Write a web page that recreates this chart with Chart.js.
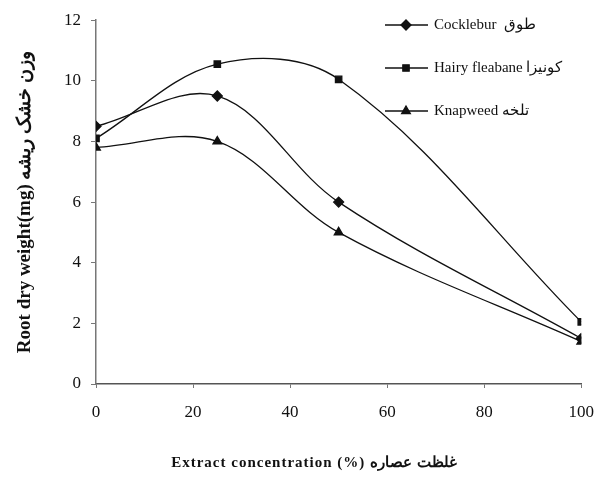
<!DOCTYPE html>
<html>
<head>
<meta charset="utf-8">
<script src="https://cdn.jsdelivr.net/npm/chart.js@4/dist/chart.umd.min.js"></script>
<style>
  html, body { margin: 0; padding: 0; background: #fff; }
  #wrap { width: 608px; height: 482px; }
</style>
</head>
<body>
<div id="wrap"><canvas id="chart" width="608" height="482"></canvas></div>
<script>
  // extract concentration (%)
  const concentrations = [0, 25, 50, 100];
  const cocklebur = [8.5, 9.5, 6.0, 1.5];
  const hairyFleabane = [8.1, 10.55, 10.05, 2.05];
  const knapweed = [7.8, 8.0, 5.0, 1.4];
  const xTicks = [0, 20, 40, 60, 80, 100];
  const yTicks = [0, 2, 4, 6, 8, 10, 12];

  const SERIF = "'Liberation Serif', 'DejaVu Serif', serif";
  const INK = '#111';

  function pts(vals) {
    return concentrations.map(function (c, i) { return { x: c, y: vals[i] }; });
  }

  function series(label, vals, style, radius) {
    return {
      label: label,
      data: pts(vals),
      borderColor: INK,
      backgroundColor: INK,
      borderWidth: 1.3,
      tension: 0.35,
      pointStyle: style,
      pointRadius: radius,
      pointBackgroundColor: INK,
      pointBorderColor: INK,
    };
  }

  // legend drawn inside the plot, line + marker + label
  const legendPlugin = {
    id: 'lineLegend',
    afterDraw: function (chart) {
      const ctx = chart.ctx;
      const rows = [25, 68, 111];
      ctx.save();
      chart.data.datasets.forEach(function (ds, i) {
        const y = rows[i];
        ctx.strokeStyle = INK;
        ctx.lineWidth = 1.3;
        ctx.beginPath();
        ctx.moveTo(385, y);
        ctx.lineTo(428, y);
        ctx.stroke();
        ctx.fillStyle = INK;
        Chart.helpers.drawPoint(ctx, { pointStyle: ds.pointStyle, radius: ds.pointRadius, borderWidth: 1 }, 406, y);
        ctx.fillStyle = INK;
        ctx.font = '15px ' + SERIF;
        ctx.textAlign = 'left';
        ctx.textBaseline = 'middle';
        ctx.fillText(ds.label, 434, y);
      });
      // x axis title
      ctx.font = 'bold 15px ' + SERIF;
      ctx.letterSpacing = '1px';
      ctx.textAlign = 'center';
      ctx.textBaseline = 'middle';
      ctx.fillText('Extract concentration (%) غلظت عصاره', 314, 463);
      ctx.restore();
    }
  };

  new Chart(document.getElementById('chart'), {
    type: 'line',
    data: {
      datasets: [
        series('Cocklebur  طوق', cocklebur, 'rectRot', 5),
        series('Hairy fleabane کونیزا', hairyFleabane, 'rect', 4.5),
        series('Knapweed تلخه', knapweed, 'triangle', 5),
      ],
    },
    options: {
      responsive: false,
      animation: false,
      layout: { padding: { left: 0, right: 23, top: 16, bottom: 0 } },
      plugins: {
        legend: { display: false },
        tooltip: { enabled: false },
      },
      scales: {
        x: {
          type: 'linear',
          min: 0,
          max: 100,
          afterBuildTicks: function (s) { s.ticks = xTicks.map(function (v) { return { value: v }; }); },
          afterFit: function (s) { s.height = 98; },
          border: { color: '#555', width: 1.5 },
          grid: { drawOnChartArea: false, tickLength: 4, color: '#777' },
          ticks: { color: INK, font: { family: SERIF, size: 17 }, padding: 14, maxRotation: 0 },
        },
        y: {
          min: 0,
          max: 12,
          afterBuildTicks: function (s) { s.ticks = yTicks.map(function (v) { return { value: v }; }); },
          afterFit: function (s) { s.width = 96; },
          border: { color: '#777', width: 1.5 },
          grid: { drawOnChartArea: false, tickLength: 5, color: '#777' },
          ticks: { color: INK, font: { family: SERIF, size: 17 }, padding: 10 },
          title: {
            display: true,
            text: 'Root dry weight(mg) وزن خشک ریشه',
            color: INK,
            font: { family: SERIF, size: 19, weight: 'bold' },
            padding: { top: 14, bottom: 0 },
          },
        },
      },
    },
    plugins: [legendPlugin],
  });
</script>
</body>
</html>
